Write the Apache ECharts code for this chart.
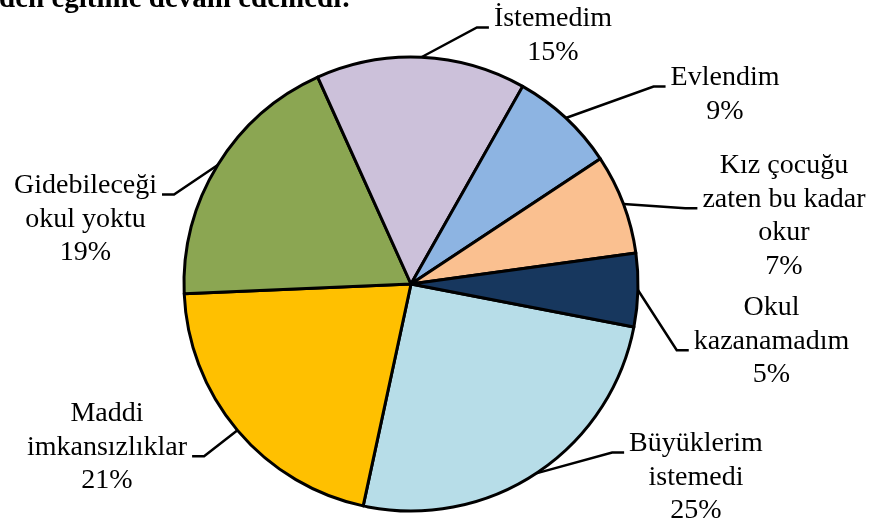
<!DOCTYPE html>
<html>
<head>
<meta charset="utf-8">
<script src="https://cdn.jsdelivr.net/npm/echarts@6/dist/echarts.min.js"></script>
<style>
  html, body { margin: 0; padding: 0; background: #fff; }
  #pieChart { width: 874px; height: 529px; }
</style>
</head>
<body>
<div id="pieChart"></div>
<script>
  // slice names (line breaks as in the picture)
  let categories = ['Büyüklerim\nistemedi', 'Maddi\nimkansızlıklar', 'Gidebileceği\nokul yoktu', 'İstemedim', 'Evlendim', 'Kız çocuğu\nzaten bu kadar\nokur', 'Okul\nkazanamadım']
  let sliceValues = [25.3, 20.9, 18.9, 14.9, 7.5, 7.1, 5.2]
  // percentages as printed on the labels
  let percentLabels = ['25%', '21%', '19%', '15%', '9%', '7%', '5%']
  let sliceColors = ['#B7DDE8', '#FFC000', '#8BA652', '#CCC1DA', '#8DB4E2', '#FAC090', '#17375E']

  // label placement: [center x, first line middle y, side of pie, line the leader hooks on]
  let labelBoxes = [
    [696, 443.5, 'right', 0],
    [107, 413.5, 'left', 1],
    [85.5, 185.5, 'left', 0],
    [553, 18.5, 'right', 0],
    [725, 77.5, 'right', 0],
    [784, 165.5, 'right', 1],
    [771.5, 307.5, 'right', 1]
  ]
  let lineHeight = 33.7

  let chart = echarts.init(document.getElementById('pieChart'))

  let data = categories.map((name, i) => {
    return { name: name, value: sliceValues[i], itemStyle: { color: sliceColors[i] } }
  })

  chart.setOption({
    animation: false,
    graphic: [
      {
        type: 'text',
        left: -1,
        top: -15,
        style: {
          text: 'den eğitime devam edemedi:',
          font: 'bold 29px "Liberation Serif"',
          fill: '#000'
        }
      }
    ],
    series: [
      {
        type: 'pie',
        center: [411, 284],
        radius: 227,
        startAngle: -10.9,
        clockwise: true,
        avoidLabelOverlap: false,
        itemStyle: {
          borderColor: '#000',
          borderWidth: 3
        },
        label: {
          show: true,
          position: 'outside',
          color: '#000',
          fontFamily: 'Liberation Serif',
          fontSize: 28,
          lineHeight: lineHeight,
          align: 'center',
          formatter: function (p) {
            return p.name + '\n' + percentLabels[p.dataIndex]
          }
        },
        labelLine: {
          show: true,
          length: 10,
          length2: 10,
          lineStyle: { color: '#000', width: 2.5 }
        },
        labelLayout: function (params) {
          let box = labelBoxes[params.dataIndex]
          let halfW = params.labelRect.width / 2
          let hookY = box[1] + box[3] * lineHeight + 9
          let edge = params.labelLinePoints ? params.labelLinePoints[0] : [box[0], hookY]
          let hookX, elbowX
          if (box[2] === 'right') {
            hookX = box[0] - halfW - 5
            elbowX = hookX - 12
          } else {
            hookX = box[0] + halfW + 5
            elbowX = hookX + 12
          }
          return {
            x: box[0],
            y: box[1] - lineHeight / 2,
            align: 'center',
            verticalAlign: 'top',
            labelLinePoints: [edge, [elbowX, hookY], [hookX, hookY]]
          }
        },
        emphasis: { disabled: true },
        data: data
      }
    ]
  })
</script>
</body>
</html>
